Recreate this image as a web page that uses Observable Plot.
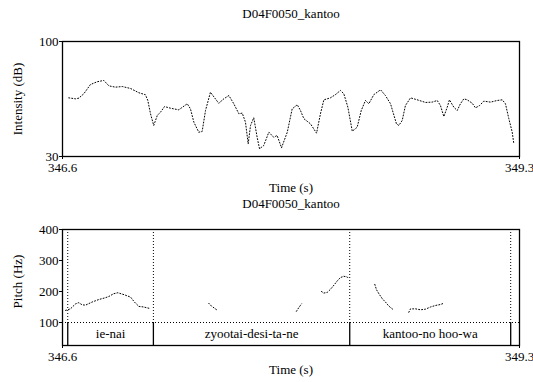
<!DOCTYPE html>
<html><head><meta charset="utf-8">
<script src="https://cdn.jsdelivr.net/npm/d3@7"></script>
<script src="https://cdn.jsdelivr.net/npm/@observablehq/plot@0.6"></script>
<style>
body{margin:0;background:#fff}
#c svg{display:block;overflow:visible}
#c svg, #c svg text{font-family:"Liberation Serif", serif !important; font-size:13px !important;}
</style>
</head><body><div id="c"></div>
<script>
const chartTitle = "D04F0050_kantoo";
const timeDomain = [346.6, 349.3];
const intensityTicks = [30, 100];
const pitchTicks = [100, 200, 300, 400];

const intensityTime = [346.637, 346.677, 346.696, 346.726, 346.765, 346.805, 346.844, 346.874, 346.913, 346.953,
  347.002, 347.051, 347.090, 347.104, 347.120, 347.139, 347.160, 347.179, 347.203, 347.238,
  347.287, 347.337, 347.356, 347.376, 347.405, 347.425, 347.445, 347.474, 347.523, 347.553,
  347.583, 347.612, 347.642, 347.662, 347.681, 347.697, 347.711, 347.730, 347.750, 347.764,
  347.789, 347.819, 347.848, 347.868, 347.894, 347.928, 347.957, 347.987, 348.006, 348.026,
  348.065, 348.101, 348.124, 348.144, 348.183, 348.213, 348.242, 348.262, 348.286, 348.312,
  348.341, 348.365, 348.390, 348.410, 348.439, 348.479, 348.508, 348.538, 348.573, 348.587,
  348.607, 348.626, 348.656, 348.696, 348.745, 348.784, 348.814, 348.833, 348.853, 348.873,
  348.886, 348.912, 348.932, 348.951, 348.971, 348.991, 349.021, 349.040, 349.064, 349.089,
  349.129, 349.168, 349.198, 349.217, 349.237, 349.257, 349.266];
const intensityDb = [65.7, 65.1, 65.5, 68.2, 73.8, 75.5, 76.3, 73.0, 72.2, 72.6,
  71.4, 68.8, 67.6, 64.1, 56.0, 48.9, 55.0, 57.0, 60.4, 59.4,
  58.4, 62.1, 59.0, 50.9, 44.8, 45.2, 58.0, 69.1, 62.4, 65.1,
  67.1, 62.1, 56.0, 56.4, 50.9, 37.7, 48.9, 53.6, 41.7, 34.7,
  36.7, 44.8, 41.7, 42.8, 35.3, 44.8, 59.0, 61.5, 58.0, 53.0,
  49.9, 44.2, 56.0, 64.5, 65.7, 67.7, 70.2, 68.2, 60.0, 45.4,
  47.8, 58.0, 64.1, 62.1, 67.6, 70.6, 67.1, 62.1, 49.9, 48.9,
  51.9, 61.0, 65.7, 64.5, 62.9, 63.1, 64.1, 61.0, 54.3, 60.0,
  64.5, 60.0, 58.0, 62.1, 65.1, 64.5, 62.4, 59.6, 61.0, 63.7,
  63.1, 64.1, 64.5, 62.1, 53.0, 44.8, 38.1];

const pitchSegment = ["a","a","a","a","a","a","a","a","a","a","a","a","a","a","a","a","a","a",
  "b","b","b","b", "c","c","c",
  "d","d","d","d","d","d","d","d","d","d",
  "e","e","e","e","e","e","e","e",
  "f","f","f","f","f","f","f","f","f"];
const pitchTime = [346.618, 346.647, 346.677, 346.696, 346.716, 346.736, 346.775, 346.814, 346.854, 346.874,
  346.903, 346.927, 346.962, 347.002, 347.025, 347.051, 347.080, 347.110,
  347.464, 347.480, 347.498, 347.516,
  347.982, 347.996, 348.012,
  348.130, 348.144, 348.164, 348.183, 348.203, 348.223, 348.242, 348.262, 348.282, 348.291,
  348.445, 348.455, 348.469, 348.489, 348.508, 348.528, 348.548, 348.557,
  348.646, 348.656, 348.686, 348.715, 348.745, 348.774, 348.804, 348.833, 348.847];
const pitchHz = [139, 144, 160, 164, 157, 156, 166, 174, 180, 184,
  193, 196, 190, 182, 166, 152, 150, 146,
  162, 153, 146, 139,
  136, 148, 160,
  200, 195, 197, 207, 220, 234, 245, 249, 247, 241,
  223, 206, 193, 177, 166, 153, 144, 141,
  133, 144, 144, 141, 143, 150, 155, 158, 161];

const tierBoundaries = [346.631, 347.137, 348.297, 349.248];
const tierLabels = ["ie-nai", "zyootai-desi-ta-ne", "kantoo-no hoo-wa"];

const intensityRows = intensityTime.map((t, i) => ({t, db: intensityDb[i]}));
const pitchRows = pitchTime.map((t, i) => ({t, hz: pitchHz[i], seg: pitchSegment[i]}));
const tierRows = tierLabels.map((label, i) => ({label, start: tierBoundaries[i], end: tierBoundaries[i + 1]}));

const style = {background: "white", color: "black"};
const dots = "1,2";

const topChart = Plot.plot({
  width: 533, height: 195,
  marginLeft: 62, marginRight: 14, marginTop: 41, marginBottom: 39,
  style,
  x: {domain: timeDomain},
  y: {domain: [30, 100]},
  marks: [
    Plot.line(intensityRows, {x: "t", y: "db", stroke: "black", strokeWidth: 1, strokeDasharray: dots}),
    Plot.frame({stroke: "black", strokeWidth: 1.3}),
    Plot.axisY({ticks: intensityTicks, tickSize: 3, tickPadding: 1, label: null}),
    Plot.axisX({ticks: timeDomain, tickSize: 3, tickPadding: 3, label: null, tickFormat: d => d.toFixed(1)}),
    Plot.text([chartTitle], {frameAnchor: "top", lineAnchor: "middle", dy: -28}),
    Plot.text(["Intensity (dB)"], {frameAnchor: "left", textAnchor: "middle", lineAnchor: "middle", rotate: -90, dx: -44.5}),
    Plot.text(["Time (s)"], {frameAnchor: "bottom", lineAnchor: "middle", dy: 31})
  ]
});

const bottomChart = Plot.plot({
  width: 533, height: 187,
  marginLeft: 62, marginRight: 14, marginTop: 34, marginBottom: 37,
  style,
  x: {domain: timeDomain},
  y: {domain: [100, 400], range: [127, 34]},
  marks: [
    Plot.ruleY([100], {stroke: "black", strokeDasharray: dots}),
    Plot.ruleX(tierBoundaries, {stroke: "black", insetBottom: 23, strokeDasharray: dots}),
    Plot.ruleX(tierBoundaries, {stroke: "black", insetTop: 93, strokeWidth: 1.3}),
    Plot.text(tierRows, {x: d => (d.start + d.end) / 2, text: "label", frameAnchor: "bottom", lineAnchor: "middle", dy: -11.5}),
    Plot.line(pitchRows, {x: "t", y: "hz", z: "seg", stroke: "black", strokeWidth: 1, strokeDasharray: dots}),
    Plot.frame({stroke: "black", strokeWidth: 1.3}),
    Plot.axisY({ticks: pitchTicks, tickSize: 3, tickPadding: 1, label: null}),
    Plot.axisX({ticks: timeDomain, tickSize: 3, tickPadding: 3, label: null, tickFormat: d => d.toFixed(1)}),
    Plot.text([chartTitle], {frameAnchor: "top", lineAnchor: "middle", dy: -26}),
    Plot.text(["Pitch (Hz)"], {frameAnchor: "left", textAnchor: "middle", lineAnchor: "middle", rotate: -90, dx: -45, dy: -6}),
    Plot.text(["Time (s)"], {frameAnchor: "bottom", lineAnchor: "middle", dy: 24})
  ]
});

document.getElementById("c").append(topChart, bottomChart);
</script>
</body></html>
